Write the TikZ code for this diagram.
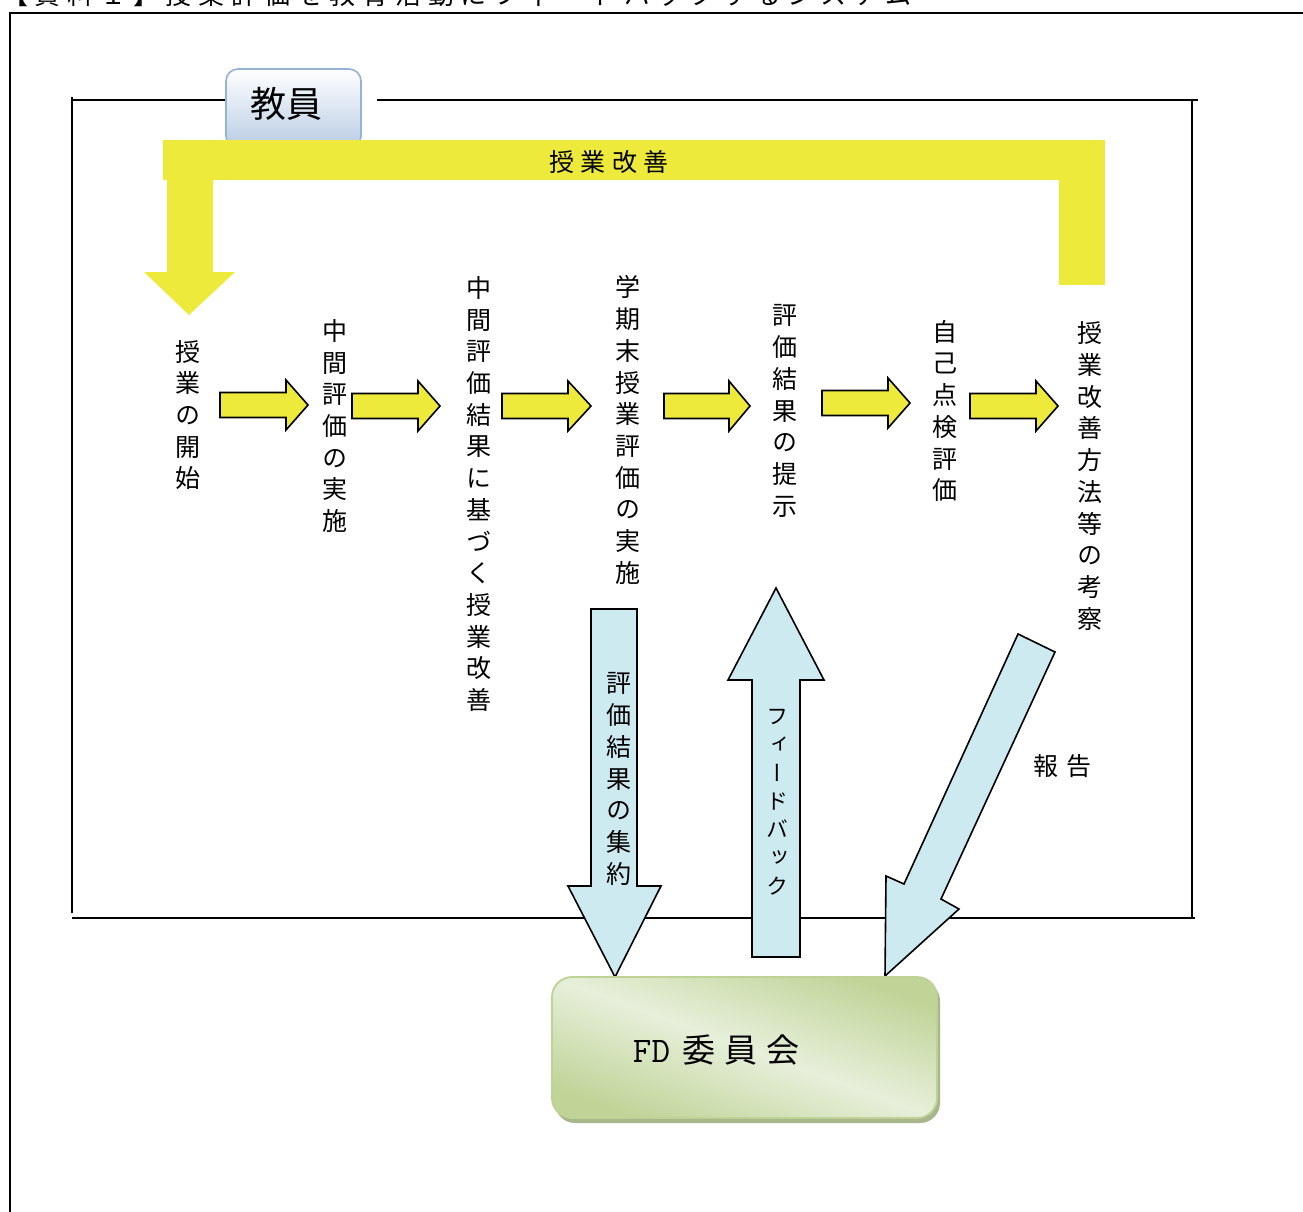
\documentclass[tikz,border=0pt]{standalone}
\usepackage{fontspec}
\newfontfamily\cjk{Noto Sans CJK JP}
\newfontfamily\cjkv{Noto Sans CJK JP}[RawFeature=+vert]
\newfontfamily\cjksp{Noto Sans CJK JP}[LetterSpace=26]
\definecolor{ybody}{RGB}{238,234,60}
\definecolor{lblue}{RGB}{205,234,240}
\definecolor{tbtop}{RGB}{255,255,255}
\definecolor{tbbot}{RGB}{184,204,228}
\definecolor{tbline}{RGB}{149,179,215}
\definecolor{gdark}{RGB}{192,212,152}
\definecolor{glight}{RGB}{231,239,218}
\definecolor{gline}{RGB}{190,210,150}
\definecolor{gshadow}{RGB}{168,182,140}
\newcommand\rarr[4]{\draw[yarrow] ({#1},{#4-12.5}) -- ({#2},{#4-12.5}) -- ({#2},{#4-25}) -- ({#3},{#4}) -- ({#2},{#4+25}) -- ({#2},{#4+12.5}) -- ({#1},{#4+12.5}) -- cycle;}
\begin{document}
\begin{tikzpicture}[x=1pt,y=-1pt,
  yarrow/.style={fill=ybody,draw=black,line width=1.6pt,line join=miter},
  barrow/.style={fill=lblue,draw=black,line width=1.6pt,line join=miter},
  vtxt/.style={inner sep=0pt,align=center,font=\cjkv\fontsize{25}{31.7}\selectfont},
  ktxt/.style={inner sep=0pt,align=center,font=\cjkv\fontsize{22}{28.3}\selectfont},
  frameline/.style={line width=1.5pt},
  pageframe/.style={line width=2.5pt}]
\useasboundingbox (0,0) rectangle (1303,1212);
\fill[white] (0,0) rectangle (1303,1212);
% page frame and caption
\node[anchor=base west,inner sep=0pt,font=\cjksp\fontsize{26}{26}\selectfont] (cap) at (2,5) {【資料１】授業評価を教育活動にフィードバックするシステム};
\draw[pageframe] (10,1212) -- (10,13) -- (1303,13);
% teacher frame
\draw[frameline] (72,100) -- (228,100);
\draw[frameline] (377,100) -- (1198,100);
\draw[frameline] (72,97) -- (72,913);
\draw[frameline] (1192,100) -- (1192,918);
\draw[frameline] (72,918) -- (1195,918);
% teacher box
\shadedraw[top color=tbtop,bottom color=tbbot,draw=tbline,line width=1.6pt,rounded corners=12pt] (226,69) rectangle (361,148);
\node[inner sep=0pt,font=\cjk\fontsize{36}{36}\selectfont] (teacher) at (286,104) {教員};
% yellow improvement loop
\fill[ybody] (163,140) rectangle (1105,180);
\fill[ybody] (1059,178) rectangle (1105,285);
\fill[ybody] (167,178) -- (213,178) -- (213,272) -- (235,272) -- (189,315) -- (144,272) -- (167,272) -- cycle;
\node[inner sep=0pt,font=\cjksp\fontsize{25}{25}\selectfont] (kaizen) at (609,162) {授業改善};
% vertical step texts
\node[vtxt] (s1) at (188,415) {授\\業\\の\\開\\始};
\node[vtxt] (s2) at (335,426) {中\\間\\評\\価\\の\\実\\施};
\node[vtxt] (s3) at (479,494) {中\\間\\評\\価\\結\\果\\に\\基\\づ\\く\\授\\業\\改\\善};
\node[vtxt] (s4) at (628,430) {学\\期\\末\\授\\業\\評\\価\\の\\実\\施};
\node[vtxt] (s5) at (785,411) {評\\価\\結\\果\\の\\提\\示};
\node[vtxt] (s6) at (945,411) {自\\己\\点\\検\\評\\価};
\node[vtxt] (s7) at (1090,476) {授\\業\\改\\善\\方\\法\\等\\の\\考\\察};
% yellow step arrows
\rarr{220}{286}{308}{405}
\rarr{352}{418}{440}{406}
\rarr{502}{568}{591}{406}
\rarr{664}{729}{750}{406}
\rarr{822}{888}{910}{403}
\rarr{970}{1036}{1058}{406}
% blue arrows
\draw[barrow] (591,609) -- (637,609) -- (637,886) -- (661,886) -- (615,977) -- (568,886) -- (591,886) -- cycle;
\draw[barrow] (752,957) -- (800,957) -- (800,680) -- (824,680) -- (776,588) -- (728,680) -- (752,680) -- cycle;
\draw[barrow] (1018,634) -- (1055,652) -- (941,899) -- (959,909) -- (885,976) -- (886,876) -- (904,884) -- cycle;
\node[vtxt] (agg) at (619,779) {評\\価\\結\\果\\の\\集\\約};
\node[ktxt] (fb) at (777,802) {フ\\ィ\\ー\\ド\\バ\\ッ\\ク};
\node[inner sep=0pt,font=\cjk\fontsize{25}{25}\selectfont] (rep) at (1062,766) {報\hspace{8pt}告};
% FD committee box
\fill[gshadow,rounded corners=20pt] (555,981) rectangle (940,1123);
\shadedraw[top color=gdark,bottom color=gdark,middle color=glight,shading angle=-20,draw=gline,line width=1.8pt,rounded corners=20pt] (552,977) rectangle (937,1118);
\node[inner sep=0pt] (fd) at (716,1050) {\ttfamily\fontsize{36}{36}\selectfont FD\hspace{12pt}\cjk\fontsize{33}{33}\selectfont 委\hspace{9pt}員\hspace{9pt}会};
\end{tikzpicture}
\end{document}
